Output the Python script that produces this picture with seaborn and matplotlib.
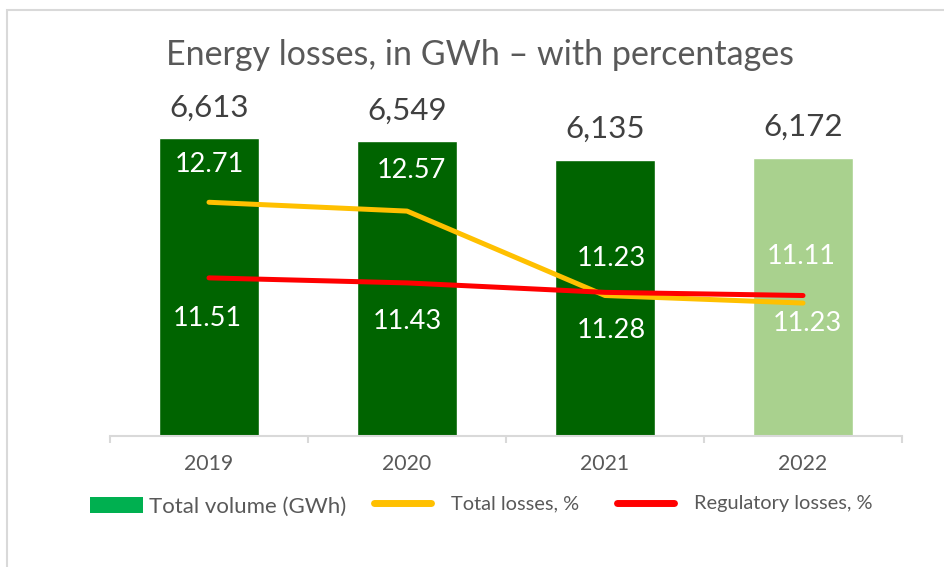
import numpy as np
import pandas as pd
import seaborn as sns
from matplotlib import pyplot as plt
from matplotlib.patches import Rectangle, Patch
from matplotlib.lines import Line2D

years = ['2019', '2020', '2021', '2022']
volume = [6613, 6549, 6135, 6172]
total_losses = [12.71, 12.57, 11.23, 11.11]
reg_losses = [11.51, 11.43, 11.28, 11.23]

bar_colors = ['#006400', '#006400', '#006400', '#a9d18e']
grey_text = '#595959'

sns.set_style('white')
plt.rcParams['font.family'] = ['Lato', 'DejaVu Sans']

fig = plt.figure(figsize=(9.44, 5.67), dpi=100)
ax = fig.add_axes([110/944, 1-436/567, 792/944, 315/567])

df = pd.DataFrame({'year': years, 'volume': volume})
sns.barplot(data=df, x='year', y='volume', hue='year', palette=bar_colors,
            legend=False, width=0.505, saturation=1, ax=ax)
ax.set_xlim(-0.5, 3.5)
ax.set_ylim(0, 7000)
ax.set_xlabel('')
ax.set_ylabel('')
ax.set_yticks([])
for s in ['left', 'right', 'top']:
    ax.spines[s].set_visible(False)
ax.spines['bottom'].set_color('#d9d9d9')
ax.spines['bottom'].set_linewidth(1.5)
ax.set_xticks(np.arange(-0.5, 4, 1), minor=True)
ax.tick_params(axis='x', which='major', bottom=False, length=0, pad=13, labelsize=15.3, labelcolor=grey_text)
ax.tick_params(axis='x', which='minor', bottom=True, length=5, width=1.5, color='#d9d9d9', direction='out')

## bar value labels
for i, v in enumerate(volume):
    ax.annotate(f'{v:,}', (i, v), xytext=(0, 31), textcoords='offset pixels',
                ha='center', va='center', fontsize=22.5, color='#404040')

## percentages on a second axis
ax2 = ax.twinx()
xs = np.arange(len(years))
sns.lineplot(x=xs, y=total_losses, color='#ffc000', linewidth=3.6, ax=ax2)
sns.lineplot(x=xs, y=reg_losses, color='#ff0000', linewidth=3.6, ax=ax2)
ax2.set_ylim(9, 14)
ax2.set_yticks([])
ax2.set_xlim(-0.5, 3.5)
for s in ax2.spines.values():
    s.set_visible(False)

top_off = [(0, 38), (4, 41), (6, 37), (-2, 47)]
low_off = [(-2, -41), (0, -39), (6, -38), (4, -28)]
for i in range(len(years)):
    ax2.annotate(f'{total_losses[i]:.2f}', (i, total_losses[i]), xytext=top_off[i],
                 textcoords='offset pixels', ha='center', va='center', fontsize=19.5,
                 color='white')
    ax2.annotate(f'{reg_losses[i]:.2f}', (i, reg_losses[i]), xytext=low_off[i],
                 textcoords='offset pixels', ha='center', va='center', fontsize=19.5,
                 color='white')

fig.text(480/944, 1-55/567, 'Energy losses, in GWh \u2013 with percentages',
         ha='center', va='center', fontsize=24.5, color=grey_text)

## legend, three pieces
leg1 = fig.legend(handles=[Patch(facecolor='#00b050', edgecolor='none', label='Total volume (GWh)')],
                  loc='center left', bbox_to_anchor=(90/944, 1-507/567), frameon=False,
                  borderpad=0, borderaxespad=0, handlelength=2.4, handleheight=0.72,
                  handletextpad=0.25, fontsize=16, labelcolor=grey_text)
leg2 = fig.legend(handles=[Line2D([], [], color='#ffc000', lw=5, solid_capstyle='round', label='Total losses, %')],
                  loc='center left', bbox_to_anchor=(374/944, 1-504/567), frameon=False,
                  borderpad=0, borderaxespad=0, handlelength=2.85, handletextpad=1.0,
                  fontsize=14.4, labelcolor=grey_text)
leg3 = fig.legend(handles=[Line2D([], [], color='#ff0000', lw=5, solid_capstyle='round', label='Regulatory losses, %')],
                  loc='center left', bbox_to_anchor=(617/944, 1-504/567), frameon=False,
                  borderpad=0, borderaxespad=0, handlelength=2.85, handletextpad=1.0,
                  fontsize=14.4, labelcolor=grey_text)

fig.add_artist(Rectangle((7/944, -0.1), 1.2, 1-10/567+0.1, transform=fig.transFigure,
                         fill=False, edgecolor='#d9d9d9', lw=1.5))

plt.savefig('out.png', dpi=100)
